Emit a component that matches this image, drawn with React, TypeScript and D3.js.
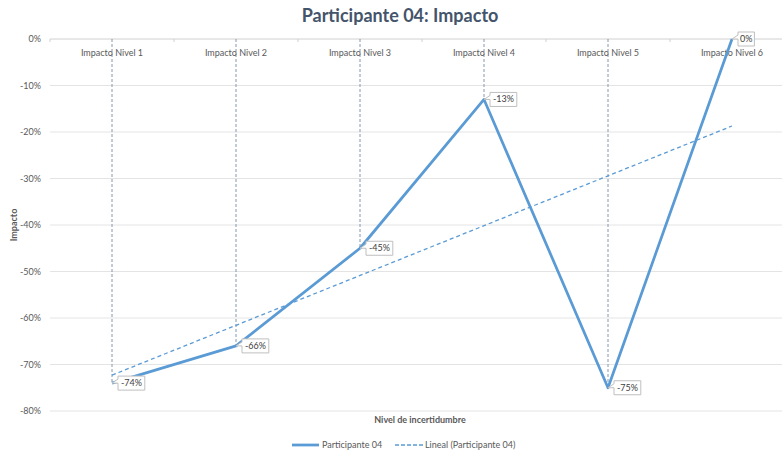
import React from "react";
import * as d3 from "d3";

const categories = ["Impacto Nivel 1", "Impacto Nivel 2", "Impacto Nivel 3", "Impacto Nivel 4", "Impacto Nivel 5", "Impacto Nivel 6"];
const values = [-0.74, -0.66, -0.45, -0.13, -0.75, 0];
const yTicks = [0, -0.1, -0.2, -0.3, -0.4, -0.5, -0.6, -0.7, -0.8];

const W = 782;
const H = 452;
const FONT = "Lato, 'Open Sans', sans-serif";
const BLUE = "#5b9bd5";

export default function App() {
  const left = 50;
  const right = 794;
  const top = 39;
  const bottom = 411;

  const x = d3.scaleBand<string>().domain(categories).range([left, right]).padding(0);
  const cx = (c: string) => (x(c) as number) + x.bandwidth() / 2;
  const y = d3.scaleLinear().domain([-0.8, 0]).range([bottom, top]);

  // linear regression trend line
  const xs = values.map((_, i) => i + 1);
  const mx = d3.mean(xs) as number;
  const my = d3.mean(values) as number;
  const sxy = d3.sum(xs.map((xi, i) => (xi - mx) * (values[i] - my)));
  const sxx = d3.sum(xs.map((xi) => (xi - mx) * (xi - mx)));
  const slope = sxy / sxx;
  const intercept = my - slope * mx;
  const trendStart = intercept + slope * 1;
  const trendEnd = intercept + slope * 6;

  const line = d3
    .line<number>()
    .x((_, i) => cx(categories[i]))
    .y((d) => y(d));

  const d3fmt = d3.format(".0%");
  const fmt = (v: number) => d3fmt(v).replace("\u2212", "-");

  return (
    <svg width={W} height={H} style={{ position: "absolute", left: 0, top: 0, background: "#fff" }} fontFamily={FONT}>
      <rect x={0} y={0} width={W} height={H} fill="#fff" />
      <text x={400} y={22} textAnchor="middle" fontSize={18} fontWeight="bold" fill="#44546a">
        Participante 04: Impacto
      </text>

      {yTicks.map((t) => (
        <g key={t}>
          <line x1={left} x2={right} y1={y(t)} y2={y(t)} stroke={t === 0 ? "#d0d0d0" : "#e4e4e4"} strokeWidth={1} />
          <text x={41} y={y(t) + 3} textAnchor="end" fontSize={9} fill="#595959">
            {fmt(t)}
          </text>
        </g>
      ))}

      {/* category ticks at top axis */}
      {categories.map((c) => (
        <line key={"tk" + c} x1={x(c) as number} x2={x(c) as number} y1={top} y2={top + 3} stroke="#d0d0d0" />
      ))}

      {/* drop lines */}
      {values.map((v, i) => (
        <line
          key={"dl" + i}
          x1={cx(categories[i])}
          x2={cx(categories[i])}
          y1={y(0)}
          y2={y(v)}
          stroke="#8497b0"
          strokeWidth={1}
          strokeDasharray="3,2"
        />
      ))}

      {categories.map((c) => (
        <text key={"cl" + c} x={cx(c)} y={56} textAnchor="middle" fontSize={9} fill="#595959">
          {c}
        </text>
      ))}

      {/* trend line */}
      <line
        x1={cx(categories[0])}
        x2={cx(categories[5])}
        y1={y(trendStart)}
        y2={y(trendEnd)}
        stroke={BLUE}
        strokeWidth={1.3}
        strokeDasharray="4,3"
      />

      <path d={line(values) || ""} fill="none" stroke={BLUE} strokeWidth={2.75} strokeLinejoin="round" />

      {/* data labels */}
      {values.map((v, i) => {
        const px = cx(categories[i]);
        const py = y(v);
        const label = fmt(v);
        const w = label.length * 5.2 + 6;
        const bx = px + 6;
        const by = py - 7;
        const h = 14;
        const d = `M${px},${py} L${bx},${by + 3} L${bx},${by} L${bx + w},${by} L${bx + w},${by + h} L${bx},${by + h} L${bx},${by + 7} Z`;
        return (
          <g key={"lb" + i}>
            <path d={d} fill="#fff" stroke="#bfbfbf" strokeWidth={1} />
            <text x={bx + w / 2} y={by + 10} textAnchor="middle" fontSize={9} fill="#404040">
              {label}
            </text>
          </g>
        );
      })}

      <text transform={`translate(17,${(top + bottom) / 2}) rotate(-90)`} textAnchor="middle" fontSize={9} fontWeight="bold" fill="#595959">
        Impacto
      </text>
      <text x={420} y={423} textAnchor="middle" fontSize={9} fontWeight="bold" fill="#595959">
        Nivel de incertidumbre
      </text>

      {/* legend */}
      <line x1={292} x2={319} y1={445} y2={445} stroke={BLUE} strokeWidth={2.75} />
      <text x={322} y={448} fontSize={9} fill="#595959">Participante 04</text>
      <line x1={395} x2={423} y1={445} y2={445} stroke={BLUE} strokeWidth={1.3} strokeDasharray="4,2" />
      <text x={425} y={448} fontSize={9} fill="#595959">Lineal (Participante 04)</text>
    </svg>
  );
}
